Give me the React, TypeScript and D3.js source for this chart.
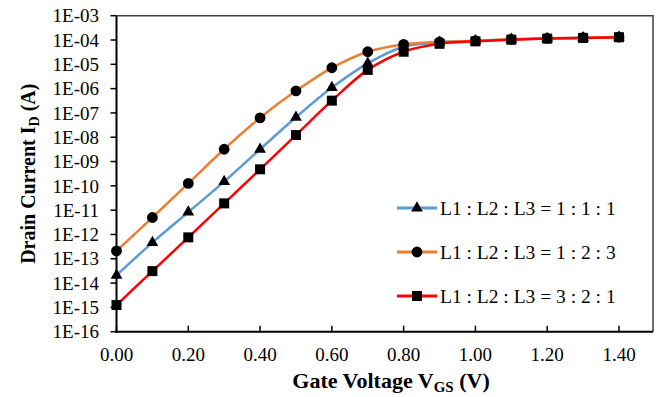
import React from 'react';
import * as d3 from 'd3';

// Gate voltage steps (V)
const gateVoltage = [0, 0.1, 0.2, 0.3, 0.4, 0.5, 0.6, 0.7, 0.8, 0.9, 1.0, 1.1, 1.2, 1.3, 1.4];

// Drain current (A) for each L1 : L2 : L3 ratio
const current111 = [2.1e-14, 4.6e-13, 8.3e-12, 1.5e-10, 3.2e-9, 6.6e-8, 1.1e-6, 1.1e-5, 5.3e-5, 8.0e-5, 9.2e-5, 1.06e-4, 1.16e-4, 1.24e-4, 1.31e-4];
const current123 = [2.1e-13, 5.0e-12, 1.26e-10, 3.2e-9, 6.3e-8, 8.1e-7, 7.2e-6, 3.3e-5, 6.6e-5, 8.3e-5, 9.3e-5, 1.07e-4, 1.17e-4, 1.25e-4, 1.32e-4];
const current321 = [1.25e-15, 3.1e-14, 7.6e-13, 1.9e-11, 4.8e-10, 1.23e-8, 3.2e-7, 5.9e-6, 3.3e-5, 7.0e-5, 8.8e-5, 1.03e-4, 1.14e-4, 1.22e-4, 1.30e-4];

const seriesNames = ['L1 : L2 : L3 = 1 : 1 : 1', 'L1 : L2 : L3 = 1 : 2 : 3', 'L1 : L2 : L3 = 3 : 2 : 1'];

const xTickLabels = ['0.00', '0.20', '0.40', '0.60', '0.80', '1.00', '1.20', '1.40'];
const yTickLabels = ['1E-16', '1E-15', '1E-14', '1E-13', '1E-12', '1E-11', '1E-10', '1E-09', '1E-08', '1E-07', '1E-06', '1E-05', '1E-04', '1E-03'];

const W = 659;
const H = 397;
const plot = { left: 116.5, top: 15.7, right: 653, bottom: 331.7 };
const serif = { fontFamily: "'Liberation Serif', 'Times New Roman', Tinos, 'DejaVu Serif', serif" };

export default function App() {
  const x = d3.scaleLinear().domain([0, 1.4]).range([plot.left, 619]);
  const y = d3.scaleLog().domain([1e-16, 1e-3]).range([plot.bottom, plot.top]);

  const series = [
    { name: seriesNames[0], values: current111, color: '#5B9BD5', symbol: d3.symbolTriangle, size: 60 },
    { name: seriesNames[1], values: current123, color: '#ED7D31', symbol: d3.symbolCircle, size: 92 },
    { name: seriesNames[2], values: current321, color: '#FF0000', symbol: d3.symbolSquare, size: 100 },
  ];

  const line = d3.line<number>()
    .x((_, i) => x(gateVoltage[i]))
    .y(d => y(d))
    .curve(d3.curveCatmullRom.alpha(0.5));

  const legendY = [208, 252, 296];

  return (
    <div style={{ position: 'absolute', left: 0, top: 0 }}>
      <svg width={W} height={H} style={{ display: 'block', background: '#fff', ...serif }}>
        {/* top / right border */}
        <path d={`M${plot.left},${plot.top}H${plot.right}V${plot.bottom}`} fill="none" stroke="#404040" strokeWidth={1.5} />

        {/* series */}
        {series.map(s => (
          <g key={s.name}>
            <path d={line(s.values) || ''} fill="none" stroke={s.color} strokeWidth={2.5} />
            {s.values.map((v, i) => (
              <path key={i}
                d={d3.symbol().type(s.symbol).size(s.size)() || ''}
                transform={`translate(${x(gateVoltage[i])},${y(v)})`}
                fill="#000" />
            ))}
          </g>
        ))}

        {/* y axis */}
        <line x1={plot.left} x2={plot.left} y1={plot.top} y2={plot.bottom + 1} stroke="#000" strokeWidth={2} />
        {yTickLabels.map(t => (
          <g key={t} transform={`translate(0,${y(+t)})`}>
            <line x1={plot.left - 6} x2={plot.left} stroke="#000" strokeWidth={1.5} />
            <text x={99} dy="0.35em" textAnchor="end" fontSize={19} fill="#000" style={serif}>{t}</text>
          </g>
        ))}

        {/* x axis */}
        <line x1={plot.left - 1} x2={plot.right} y1={plot.bottom} y2={plot.bottom} stroke="#000" strokeWidth={2} />
        {xTickLabels.map(t => (
          <g key={t} transform={`translate(${x(+t)},0)`}>
            <line y1={plot.bottom - 6} y2={plot.bottom} stroke="#000" strokeWidth={1.5} />
            <text y={361} textAnchor="middle" fontSize={19} fill="#000" style={serif}>{t}</text>
          </g>
        ))}

        {/* axis titles */}
        <text x={391} y={388} textAnchor="middle" fontSize={22} fontWeight="bold" fill="#000" style={serif}>
          Gate Voltage V<tspan fontSize={15} dy={4}>GS</tspan><tspan dy={-4}> (V)</tspan>
        </text>
        <text transform={`translate(35,${(plot.top + plot.bottom) / 2}) rotate(-90)`} textAnchor="middle" fontSize={20} fontWeight="bold" fill="#000" style={serif}>
          Drain Current I<tspan fontSize={14} dy={4}>D</tspan><tspan dy={-4}> (A)</tspan>
        </text>

        {/* legend */}
        {series.map((s, i) => (
          <g key={s.name} transform={`translate(0,${legendY[i]})`}>
            <line x1={397} x2={437} stroke={s.color} strokeWidth={3} />
            <path d={d3.symbol().type(s.symbol).size(s.size)() || ''} transform="translate(417,0)" fill="#000" />
            <text x={440} dy="0.35em" fontSize={19.5} fill="#000" style={serif}>{s.name}</text>
          </g>
        ))}
      </svg>
    </div>
  );
}
